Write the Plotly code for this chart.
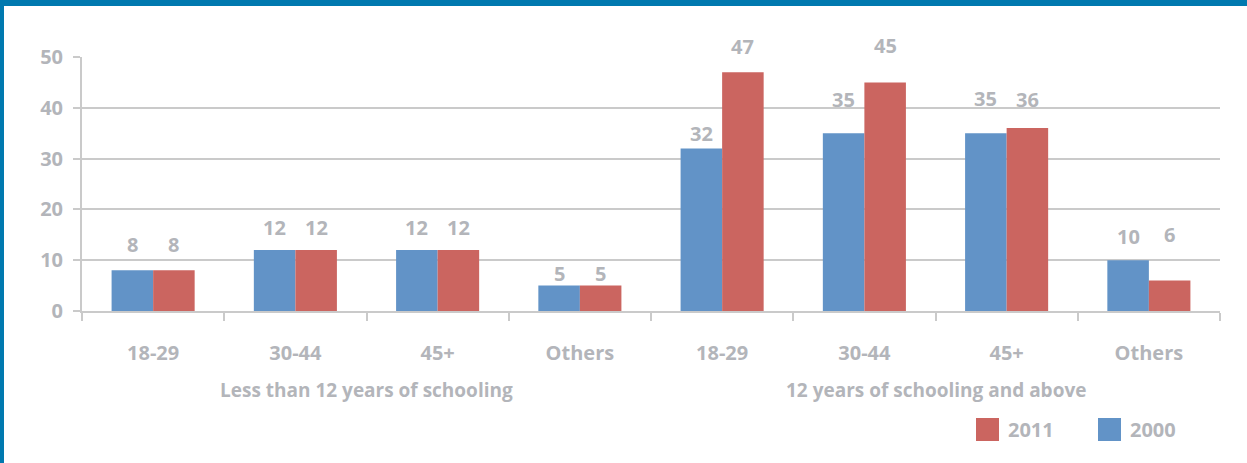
import plotly.graph_objects as go

# Survey shares (%) by schooling level and age group
groups = ["Less than 12 years of schooling", "12 years of schooling and above"]
age_groups = ["18-29", "30-44", "45+", "Others", "18-29", "30-44", "45+", "Others"]
values_2000 = [8, 12, 12, 5, 32, 35, 35, 10]
values_2011 = [8, 12, 12, 5, 47, 45, 36, 6]
y_ticks = [0, 10, 20, 30, 40, 50]

# Vertical gap (px) between each bar top and the centre of its value label
label_gap_2000 = [26, 23, 23, 12, 15, 34, 35, 24]
label_gap_2011 = [26, 23, 23, 12, 26, 37, 29, 46]

BLUE = "#6293C7"
RED = "#CB6560"
TEXT = "#B3B5BA"
GRID = "#CACACA"
FRAME = "#0079AF"
FONT = "Open Sans"
WEIGHT = 700

W, H = 1247, 463
L, R, T, B = 82, 27, 57, 152
PW, PH = W - L - R, H - T - B
BARGAP = 0.416

def px_x(px):
    return (px - L) / PW

def px_y(py):
    return (H - B - py) / PH

positions = list(range(len(age_groups)))

fig = go.Figure()
fig.add_trace(go.Bar(x=positions, y=values_2000, name="2000", marker_color=BLUE,
                     marker_line_width=0, showlegend=False))
fig.add_trace(go.Bar(x=positions, y=values_2011, name="2011", marker_color=RED,
                     marker_line_width=0, showlegend=False))

annotations = []
half = (1 - BARGAP) / 4
for i in positions:
    for off, val, gap in ((-half, values_2000[i], label_gap_2000[i]),
                          (half, values_2011[i], label_gap_2011[i])):
        annotations.append(dict(x=i + off, y=val, xref="x", yref="y", text=str(val),
                                showarrow=False, yanchor="middle", yshift=gap,
                                font=dict(family=FONT, size=20, color=TEXT, weight=WEIGHT)))

# Group captions under the age-group labels
for gi, g in enumerate(groups):
    annotations.append(dict(x=1.5 + 4 * gi, y=px_y(390), xref="x", yref="paper", text=g,
                            showarrow=False, yanchor="middle",
                            font=dict(family=FONT, size=19, color=TEXT, weight=WEIGHT)))

# Legend entries: 2011 then 2000
shapes = []
for sx, label, color in ((976, "2011", RED), (1098, "2000", BLUE)):
    shapes.append(dict(type="rect", xref="paper", yref="paper",
                       x0=px_x(sx), x1=px_x(sx + 23), y0=px_y(441), y1=px_y(418),
                       fillcolor=color, line_width=0))
    annotations.append(dict(x=px_x(sx + 30), y=px_y(429.5), xref="paper", yref="paper",
                            text=label, showarrow=False, xanchor="left", yanchor="middle",
                            font=dict(family=FONT, size=20, color=TEXT, weight=WEIGHT)))

# Page frame: blue bars along the top and left edges
shapes.append(dict(type="rect", xref="paper", yref="paper", x0=px_x(0), x1=px_x(W),
                   y0=px_y(6), y1=px_y(0), fillcolor=FRAME, line_width=0, layer="above"))
shapes.append(dict(type="rect", xref="paper", yref="paper", x0=px_x(0), x1=px_x(4),
                   y0=px_y(H), y1=px_y(0), fillcolor=FRAME, line_width=0, layer="above"))

fig.update_layout(
    width=W, height=H,
    margin=dict(l=L, r=R, t=T, b=B, pad=0),
    paper_bgcolor="white", plot_bgcolor="white",
    barmode="group", bargap=BARGAP, bargroupgap=0,
    showlegend=False,
    annotations=annotations, shapes=shapes,
    xaxis=dict(
        range=[-0.5, len(age_groups) - 0.5],
        tickmode="array", tickvals=positions, ticktext=age_groups,
        ticks="", showgrid=False, zeroline=False,
        showline=True, linecolor=GRID, linewidth=2,
        ticklabelstandoff=23,
        tickfont=dict(family=FONT, size=20, color=TEXT, weight=WEIGHT),
        minor=dict(tickmode="array", tickvals=[p - 0.5 for p in positions] + [len(age_groups) - 0.5],
                   ticks="outside", ticklen=8, tickcolor=GRID, tickwidth=2, showgrid=False),
    ),
    yaxis=dict(
        range=[0, 50], tickmode="array", tickvals=y_ticks,
        showgrid=True, gridcolor=GRID, gridwidth=2,
        zeroline=False, showline=True, linecolor=GRID, linewidth=2,
        ticks="outside", ticklen=7, tickcolor=GRID, tickwidth=2,
        ticklabelstandoff=6,
        tickfont=dict(family=FONT, size=20, color=TEXT, weight=WEIGHT),
    ),
)

fig.write_html("out.html")
